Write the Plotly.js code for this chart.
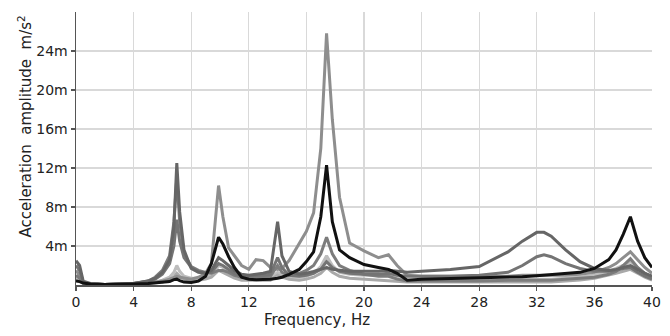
<!DOCTYPE html>
<html>
<head>
<meta charset="utf-8">
<script src="https://cdn.plot.ly/plotly-3.0.1.min.js"></script>
<style>html,body{margin:0;padding:0;background:#fff;}#chart{width:670px;height:336px;}</style>
</head>
<body>
<div id="chart"></div>
<script>
// Frequency grid (Hz)
var freq = [0,0.25,0.5,1,2,3,4,5,5.5,6,6.5,6.8,7,7.2,7.5,8,8.5,9,9.4,9.9,10.2,10.6,11,11.5,12,12.5,13,13.5,14,14.3,14.8,15.5,16,16.5,17,17.4,17.8,18.3,19,20,21,21.7,22.3,23,24,26,28,30,31,32,32.5,33,34,35,36,37,37.5,38,38.5,39,39.5,40];

// Acceleration amplitude (m/s^2, in milli units)
var seriesF = [0.8,0.6,0.2,0.1,0.05,0.05,0.1,0.2,0.3,0.5,0.8,1.3,2.0,1.4,0.9,0.7,0.7,0.8,1.0,2.0,1.8,1.4,1.0,0.7,0.6,0.7,0.7,0.7,1.3,1.0,0.8,0.8,0.9,1.2,1.9,3.0,2.0,1.3,1.1,1.0,1.0,1.1,0.8,0.5,0.5,0.5,0.5,0.5,0.6,0.6,0.6,0.6,0.7,0.8,1.0,1.4,1.7,2.0,2.4,1.8,1.2,0.8];
var seriesE = [0.5,0.4,0.15,0.05,0.05,0.05,0.1,0.15,0.2,0.3,0.5,0.8,1.2,0.9,0.6,0.5,0.5,0.6,0.8,1.5,1.3,1.0,0.7,0.5,0.5,0.5,0.5,0.5,1.0,0.8,0.6,0.5,0.6,0.8,1.2,1.8,1.3,0.9,0.7,0.6,0.5,0.5,0.4,0.3,0.3,0.3,0.3,0.3,0.3,0.3,0.3,0.3,0.4,0.5,0.7,1.0,1.2,1.4,1.6,1.2,0.8,0.5];
var seriesA = [1.5,1.0,0.3,0.1,0.05,0.05,0.1,0.2,0.3,0.4,0.6,0.8,0.9,0.8,0.7,0.6,0.8,1.2,2.2,10.2,7.0,3.8,3.0,2.0,1.6,2.6,2.5,1.8,1.6,1.7,2.5,4.2,5.5,7.4,14.0,25.8,17.0,9.0,4.3,3.5,2.8,3.1,2.0,1.0,0.9,0.9,0.9,0.9,1.0,1.0,1.0,1.0,1.0,1.1,1.3,1.8,2.2,2.8,3.4,2.6,1.8,1.2];
var seriesD = [1.0,0.7,0.2,0.1,0.05,0.1,0.15,0.4,0.8,1.5,3.0,6.5,11.0,6.5,3.2,1.9,1.5,1.3,1.2,1.5,1.5,1.3,1.0,0.8,0.7,0.8,0.8,0.9,2.0,1.3,1.0,1.2,1.5,2.0,3.2,4.9,3.2,2.0,1.5,1.1,0.9,0.9,0.6,0.4,0.4,0.4,0.4,0.5,0.5,0.5,0.5,0.5,0.6,0.7,0.8,1.1,1.4,2.0,2.7,1.8,1.2,0.8];
var seriesC = [2.0,1.5,0.3,0.1,0.05,0.1,0.15,0.35,0.6,1.1,2.2,4.0,6.7,4.5,2.8,1.8,1.4,1.2,1.3,2.2,2.0,1.6,1.2,0.9,0.9,1.0,1.0,1.1,2.8,1.8,1.0,0.9,1.0,1.2,1.6,2.4,1.8,1.4,1.2,1.1,1.1,1.2,1.0,0.9,0.9,0.9,1.0,1.3,2.0,2.9,3.1,2.9,2.2,1.7,1.4,1.4,1.5,1.7,1.8,1.3,0.9,0.6];
var seriesB = [2.5,2.0,0.4,0.15,0.05,0.1,0.15,0.4,0.7,1.3,2.6,6.0,12.5,7.5,3.6,1.7,1.3,1.2,1.5,2.8,2.5,2.0,1.5,1.1,1.0,1.1,1.2,1.4,6.5,3.0,1.4,1.1,1.2,1.4,1.6,1.8,1.6,1.5,1.4,1.4,1.4,1.5,1.4,1.3,1.4,1.6,1.9,3.4,4.5,5.4,5.4,5.0,3.6,2.4,1.7,1.5,1.6,1.8,2.0,1.6,1.2,0.9];
var seriesK = [0.4,0.35,0.2,0.1,0.05,0.05,0.1,0.15,0.2,0.25,0.35,0.55,0.6,0.45,0.3,0.25,0.4,0.9,2.2,4.9,4.2,2.9,1.8,0.8,0.6,0.55,0.55,0.6,0.7,0.8,1.1,1.6,2.4,3.4,7.0,12.3,6.5,3.6,2.8,2.1,1.8,1.6,1.2,0.5,0.6,0.65,0.7,0.8,0.85,0.95,1.0,1.05,1.15,1.3,1.7,2.6,3.6,5.2,7.0,4.5,2.8,1.8];

var names = ['F','E','A','D','C','B','K'];
var data = [seriesF, seriesE, seriesA, seriesD, seriesC, seriesB, seriesK];
var colors = ['#bdbdbd','#a9a9a9','#8e8e8e','#7c7c7c','#747474','#666666','#111111'];

var xTicks = [0,4,8,12,16,20,24,28,32,36,40];
var yTicks = [4,8,12,16,20,24];
var yTickText = ['4m','8m','12m','16m','20m','24m'];

var traces = data.map(function(s, i){
  return {x: freq, y: s, type: 'scatter', mode: 'lines', name: names[i],
    line: {color: colors[i], width: 3, shape: 'linear'}, hoverinfo: 'skip'};
});

var font = 'DejaVu Sans, sans-serif';
var layout = {
  width: 670, height: 336,
  margin: {l: 76, r: 18, t: 12, b: 51, pad: 0},
  paper_bgcolor: '#ffffff', plot_bgcolor: '#ffffff',
  showlegend: false,
  font: {family: font, size: 14, color: '#222'},
  xaxis: {range: [0, 40], tickvals: xTicks, ticktext: xTicks.map(String),
    showgrid: true, gridcolor: '#d9d9d9', gridwidth: 1.3,
    showline: true, linecolor: '#555', linewidth: 1.5,
    ticks: 'outside', ticklen: 4, tickcolor: '#555', tickwidth: 1.2,
    zeroline: false, tickfont: {family: font, size: 14, color: '#222'}},
  yaxis: {range: [0, 28], tickvals: yTicks, ticktext: yTickText,
    showgrid: true, gridcolor: '#d9d9d9', gridwidth: 1.3,
    showline: true, linecolor: '#555', linewidth: 1.5,
    ticks: 'outside', ticklen: 4, tickcolor: '#555', tickwidth: 1.2,
    zeroline: false, tickfont: {family: font, size: 14, color: '#222'}},
  annotations: [
    {text: 'Frequency, Hz', xref: 'paper', yref: 'paper', x: 0.419, y: -0.088,
     xanchor: 'center', yanchor: 'top', showarrow: false,
     font: {family: font, size: 15, color: '#222'}},
    {text: 'Acceleration  amplitude  m/s<sup>2</sup>', xref: 'paper', yref: 'paper',
     x: -0.068, y: 0.58, textangle: -90, xanchor: 'right', yanchor: 'middle', showarrow: false,
     font: {family: font, size: 15, color: '#222'}}
  ]
};

Plotly.newPlot('chart', traces, layout, {staticPlot: true, displayModeBar: false});
</script>
</body>
</html>
